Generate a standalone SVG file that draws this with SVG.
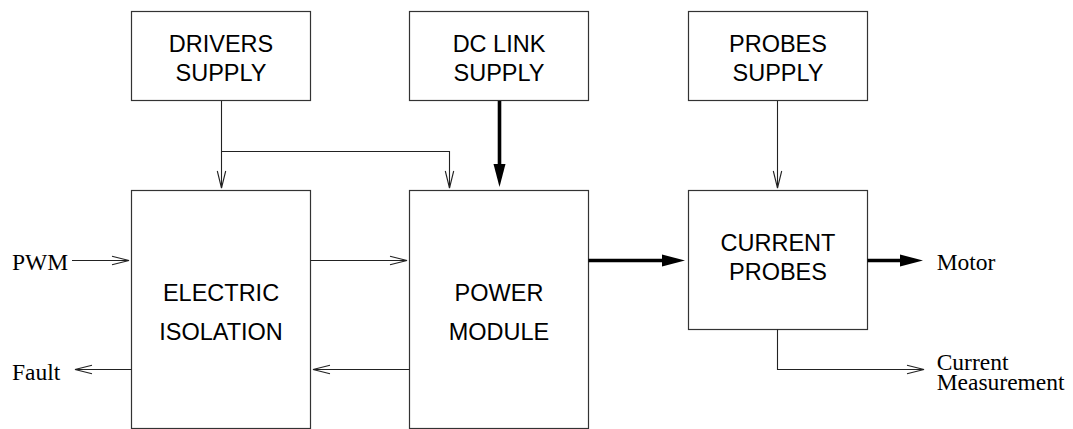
<svg xmlns="http://www.w3.org/2000/svg" width="1073" height="429" viewBox="0 0 1073 429">
  <style>
    .box { fill: #fff; stroke: #333; stroke-width: 1.2; }
    .lbl { font-family: "Liberation Sans", Arial, sans-serif; font-size: 23.5px; fill: #000; text-anchor: middle; }
    .sig { font-family: "Liberation Serif", "Times New Roman", serif; font-size: 23.5px; fill: #000; }
    .thin { fill: none; stroke: #222; stroke-width: 1.1; }
    .thick { fill: none; stroke: #000; stroke-width: 3.6; }
  </style>
  <defs>
    <marker id="open" markerUnits="userSpaceOnUse" markerWidth="40" markerHeight="40" refX="0" refY="0" orient="auto" overflow="visible" viewBox="-20 -10 40 20">
      <path d="M-17,-4.2 L0,0 L-17,4.2" fill="none" stroke="#222" stroke-width="1.1"/>
    </marker>
    <marker id="solid" markerUnits="userSpaceOnUse" markerWidth="60" markerHeight="40" refX="0" refY="0" orient="auto" overflow="visible" viewBox="-30 -10 60 20">
      <path d="M-2,-6 L21,0 L-2,6 Z" fill="#000"/>
    </marker>
  </defs>

  <!-- power supplies -->
  <g id="drivers-supply">
    <rect class="box" x="131.5" y="11.5" width="179" height="89"/>
    <text class="lbl" x="221" y="52.3">DRIVERS</text>
    <text class="lbl" x="221" y="81">SUPPLY</text>
  </g>
  <g id="dc-link-supply">
    <rect class="box" x="409.5" y="11.5" width="179" height="89"/>
    <text class="lbl" x="499" y="52.3">DC LINK</text>
    <text class="lbl" x="499" y="81">SUPPLY</text>
  </g>
  <g id="probes-supply">
    <rect class="box" x="688.5" y="11.5" width="179" height="89"/>
    <text class="lbl" x="778" y="52.3">PROBES</text>
    <text class="lbl" x="778" y="81">SUPPLY</text>
  </g>

  <!-- main chain -->
  <g id="electric-isolation">
    <rect class="box" x="131.5" y="190.5" width="179" height="238"/>
    <text class="lbl" x="221" y="300.7">ELECTRIC</text>
    <text class="lbl" x="221" y="340">ISOLATION</text>
  </g>
  <g id="power-module">
    <rect class="box" x="409.5" y="190.5" width="179" height="238"/>
    <text class="lbl" x="499" y="300.5">POWER</text>
    <text class="lbl" x="499" y="340">MODULE</text>
  </g>
  <g id="current-probes">
    <rect class="box" x="688.5" y="190.5" width="179" height="139"/>
    <text class="lbl" x="778" y="250.7">CURRENT</text>
    <text class="lbl" x="778" y="280">PROBES</text>
  </g>

  <!-- external signals -->
  <g id="signals">
    <text class="sig" x="12" y="270">PWM</text>
    <text class="sig" x="12" y="380">Fault</text>
    <text class="sig" x="936.7" y="270">Motor</text>
    <text class="sig" x="936.7" y="370">Current</text>
    <text class="sig" x="936.7" y="390">Measurement</text>
  </g>

  <!-- connectors -->
  <g id="connectors">
    <path class="thin" d="M221.5,101 V188" marker-end="url(#open)"/>
    <path class="thin" d="M221.5,151.5 H449.5 V188" marker-end="url(#open)"/>
    <path class="thin" d="M777.5,101 V188" marker-end="url(#open)"/>
    <path class="thick" d="M499.5,101 V166" marker-end="url(#solid)"/>
    <path class="thin" d="M72,260.5 H129" marker-end="url(#open)"/>
    <path class="thin" d="M310.5,260.5 H407" marker-end="url(#open)"/>
    <path class="thin" d="M409.5,369.5 H313" marker-end="url(#open)"/>
    <path class="thin" d="M131.5,369.5 H75" marker-end="url(#open)"/>
    <path class="thick" d="M588.5,260.5 H664" marker-end="url(#solid)"/>
    <path class="thick" d="M867.5,260.5 H902" marker-end="url(#solid)"/>
    <path class="thin" d="M777.5,329.5 V369.5 H924" marker-end="url(#open)"/>
  </g>
</svg>
